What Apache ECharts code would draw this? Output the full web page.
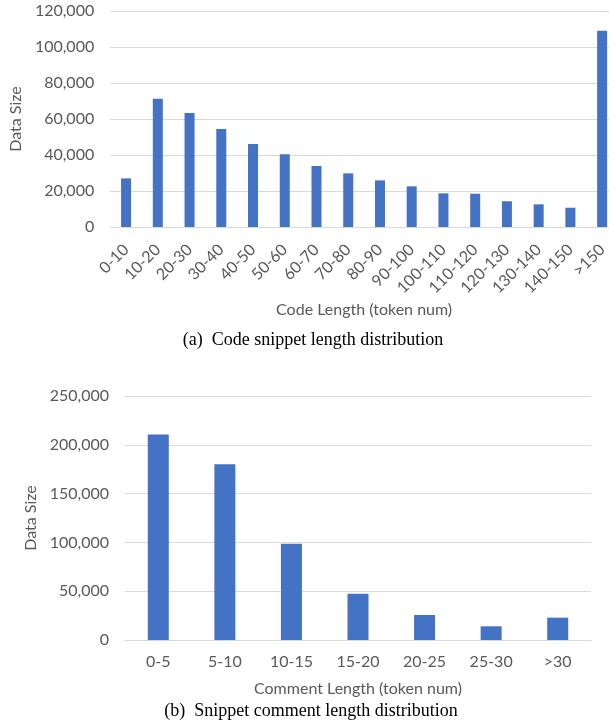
<!DOCTYPE html>
<html>
<head>
<meta charset="utf-8">
<script src="https://cdn.jsdelivr.net/npm/echarts@6/dist/echarts.min.js"></script>
<style>
  html, body { margin: 0; padding: 0; background: #fff; overflow: hidden; }
  #chart { width: 618px; height: 727px; }
</style>
</head>
<body>
<div id="chart"></div>
<script>
// (a) code snippet length
const codeBins = ['0-10', '10-20', '20-30', '30-40', '40-50', '50-60', '60-70', '70-80',
  '80-90', '90-100', '100-110', '110-120', '120-130', '130-140', '140-150', '>150'];
const codeCounts = [27000, 71300, 63300, 54400, 46100, 40400, 33900, 29800,
  25900, 22600, 18700, 18500, 14300, 12600, 10700, 109000];

// (b) comment length
const commentBins = ['0-5', '5-10', '10-15', '15-20', '20-25', '25-30', '>30'];
const commentCounts = [210500, 180000, 98600, 47400, 25600, 14000, 22900];

const blue = '#4472C4';
const grey = '#595959';
const gridGrey = '#D9D9D9';
const sans = 'Lato';
const serif = 'Liberation Serif';

const fmt = v => v.toLocaleString('en-US');

function valueAxis(idx, max, step, gap) {
  return {
    type: 'value', gridIndex: idx, min: 0, max: max, interval: step,
    name: 'Data Size', nameLocation: 'middle', nameGap: gap,
    nameTextStyle: { color: grey, fontFamily: sans, fontSize: 16 },
    axisLine: { show: false }, axisTick: { show: false },
    axisLabel: { color: grey, fontFamily: sans, fontSize: 16, margin: 16, formatter: fmt },
    splitLine: { lineStyle: { color: gridGrey, width: 1 } }
  };
}

function caption(text, x, y) {
  return {
    type: 'text', x: x, y: y,
    style: { text: text, fill: '#000', font: '18px "' + serif + '"', textAlign: 'center', textVerticalAlign: 'middle' }
  };
}

const chart = echarts.init(document.getElementById('chart'), null, { renderer: 'canvas' });
chart.setOption({
  backgroundColor: '#fff',
  animation: false,
  graphic: [
    caption('(a)  Code snippet length distribution', 313, 340),
    caption('(b)  Snippet comment length distribution', 311, 711)
  ],
  grid: [
    { left: 100, right: 0, top: 11, bottom: 500 },
    { left: 125, right: 27, top: 396, bottom: 87 }
  ],
  xAxis: [
    {
      type: 'category', gridIndex: 0, data: codeBins,
      name: 'Code Length (token num)', nameLocation: 'middle', nameGap: 75,
      nameTextStyle: { color: grey, fontFamily: sans, fontSize: 16 },
      axisLine: { lineStyle: { color: gridGrey } }, axisTick: { show: false },
      axisLabel: { color: grey, fontFamily: sans, fontSize: 16, rotate: 45, margin: 20, interval: 0 }
    },
    {
      type: 'category', gridIndex: 1, data: commentBins,
      name: 'Comment Length (token num)', nameLocation: 'middle', nameGap: 41,
      nameTextStyle: { color: grey, fontFamily: sans, fontSize: 16 },
      axisLine: { lineStyle: { color: gridGrey } }, axisTick: { show: false },
      axisLabel: { color: grey, fontFamily: sans, fontSize: 16, margin: 14, interval: 0 }
    }
  ],
  yAxis: [
    valueAxis(0, 120000, 20000, 80),
    valueAxis(1, 250000, 50000, 76)
  ],
  series: [
    { type: 'bar', xAxisIndex: 0, yAxisIndex: 0, data: codeCounts, barWidth: 10, itemStyle: { color: blue } },
    { type: 'bar', xAxisIndex: 1, yAxisIndex: 1, data: commentCounts, barWidth: 21, itemStyle: { color: blue } }
  ]
});
</script>
</body>
</html>
